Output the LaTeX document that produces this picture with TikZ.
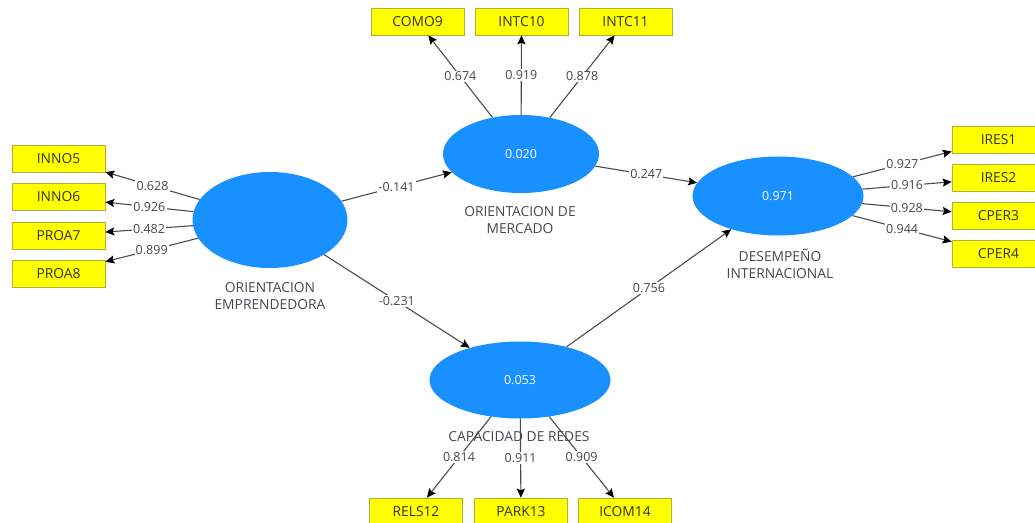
\documentclass[tikz,border=0pt]{standalone}
\usepackage{fontspec}
\setmainfont{Open Sans}
\usetikzlibrary{shapes.geometric,arrows.meta}
\definecolor{lvblue}{RGB}{24,144,255}
\definecolor{mvyellow}{RGB}{255,255,0}
\definecolor{mvborder}{RGB}{175,175,60}
\definecolor{edgegray}{RGB}{75,75,75}
\definecolor{textgray}{RGB}{70,70,80}
\begin{document}
\begin{tikzpicture}[x=1pt,y=-1pt,
    font=\fontsize{12.5}{15}\selectfont,
    latent/.style={ellipse,fill=lvblue,draw=none,inner sep=0pt,text=white},
    manifest/.style={rectangle,fill=mvyellow,draw=mvborder,line width=0.6pt,
      minimum width=93pt,minimum height=27pt,inner sep=0pt,text=black!80,
      font=\fontsize{13.8}{16}\selectfont},
    lvname/.style={align=center,text=textgray,inner sep=0pt,
      font=\fontsize{13.8}{17}\selectfont},
    coef/.style={fill=white,inner sep=1.2pt,text=textgray},
    link/.style={draw=edgegray,line width=1.1pt,
      -{Stealth[length=9pt,width=8pt,inset=1.5pt,color=black]}}]
      \clip (0,0) rectangle (1035,522);
      % constructs
      \draw
        (270,220) node[latent,minimum width=155pt,minimum height=96pt] (OE){}
        (521,154) node[latent,minimum width=156pt,minimum height=78pt] (OM){0.020}
        (778,196) node[latent,minimum width=171pt,minimum height=79pt] (DI){0.971}
        (520,380) node[latent,minimum width=181pt,minimum height=77pt] (CR){0.053};
      % indicators
      \draw
        (58.5,158.5) node[manifest] (INNO5){INNO5}
        (58.5,197) node[manifest] (INNO6){INNO6}
        (58.5,235.5) node[manifest] (PROA7){PROA7}
        (58.5,273.5) node[manifest] (PROA8){PROA8}
        (417.5,21.5) node[manifest] (COMO9){COMO9}
        (521.5,21.5) node[manifest] (INTC10){INTC10}
        (625.5,21.5) node[manifest] (INTC11){INTC11}
        (998.5,139.5) node[manifest] (IRES1){IRES1}
        (998.5,178) node[manifest] (IRES2){IRES2}
        (998.5,216) node[manifest] (CPER3){CPER3}
        (998.5,254) node[manifest] (CPER4){CPER4}
        (416,511.5) node[manifest] (RELS12){RELS12}
        (521,511.5) node[manifest] (PARK13){PARK13}
        (625,511.5) node[manifest] (ICOM14){ICOM14};
      \begin{scope}[link]
        \draw (OE) to node[coef]{-0.141} (OM);
        \draw (OM) to node[coef]{0.247} (DI);
        \draw (OE) to node[coef]{-0.231} (CR);
        \draw (CR) to node[coef]{0.756} (DI);
        \draw (OE) to node[coef]{0.628} (INNO5);
        \draw (OE) to node[coef]{0.926} (INNO6);
        \draw (OE) to node[coef]{0.482} (PROA7);
        \draw (OE) to node[coef]{0.899} (PROA8);
        \draw (OM) to node[coef]{0.674} (COMO9);
        \draw (OM) to node[coef]{0.919} (INTC10);
        \draw (OM) to node[coef]{0.878} (INTC11);
        \draw (DI) to node[coef]{0.927} (IRES1);
        \draw (DI) to node[coef]{0.916} (IRES2);
        \draw (DI) to node[coef]{0.928} (CPER3);
        \draw (DI) to node[coef]{0.944} (CPER4);
        \draw (CR) to node[coef]{0.814} (RELS12);
        \draw (CR) to node[coef]{0.911} (PARK13);
        \draw (CR) to node[coef]{0.909} (ICOM14);
      \end{scope}
      % construct names
      \draw
        (270,296.5) node[lvname] (OEname){ORIENTACION\\EMPRENDEDORA}
        (520,220) node[lvname] (OMname){ORIENTACION DE\\MERCADO}
        (780,263.5) node[lvname] (DIname){DESEMPEÑO\\INTERNACIONAL}
        (519,437) node[lvname] (CRname){CAPACIDAD DE REDES};
    \end{tikzpicture}
\end{document}
